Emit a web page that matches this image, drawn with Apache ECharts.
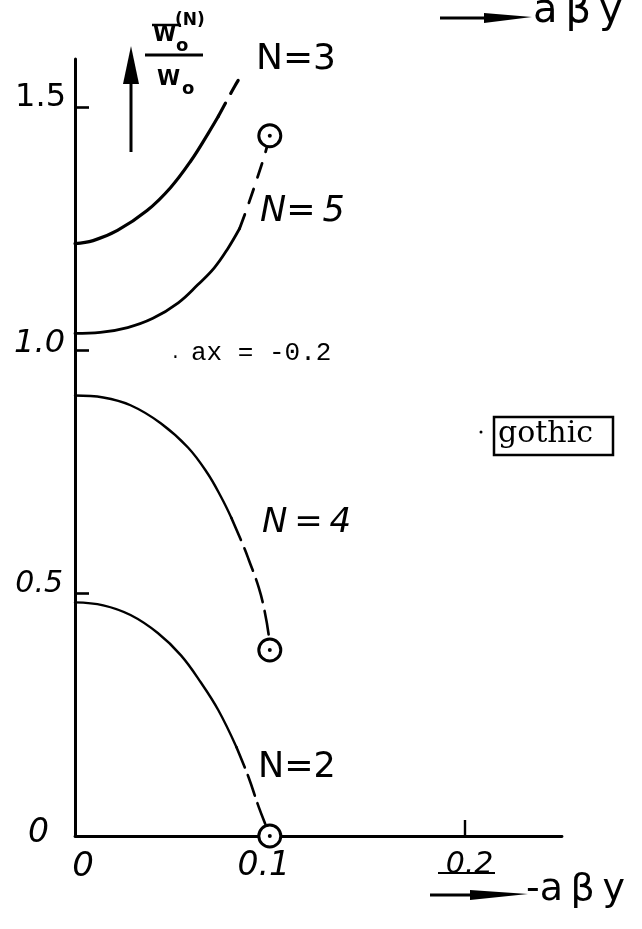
<!DOCTYPE html>
<html>
<head>
<meta charset="utf-8">
<script src="https://cdn.jsdelivr.net/npm/echarts@6/dist/echarts.min.js"></script>
<style>
  html, body { margin: 0; padding: 0; background: #fff; }
  #chart { width: 642px; height: 929px; }
</style>
</head>
<body>
<div id="chart"></div>
<script>
// Normalised eigenvalue W0(N)/W0 against -aβy, for N = 2..5 at ax = -0.2.
// Solid parts are computed branches, dashed parts the extrapolated ends.
const n3Solid  = [[0, 1.220], [0.0093, 1.226], [0.0218, 1.247], [0.037, 1.288], [0.049, 1.335], [0.0596, 1.391], [0.0684, 1.447], [0.0736, 1.482]];
const n3Dashed = [[0.0736, 1.482], [0.0775, 1.511], [0.082, 1.544], [0.0865, 1.574]];

const n5Solid  = [[0, 1.035], [0.013, 1.037], [0.027, 1.047], [0.040, 1.066], [0.053, 1.098], [0.063, 1.135], [0.0715, 1.170], [0.0785, 1.210], [0.0845, 1.251]];
const n5Dashed = [[0.0845, 1.251], [0.0886, 1.296], [0.0935, 1.354], [0.0977, 1.407], [0.1, 1.442]];

const n4Solid  = [[0, 0.907], [0.0145, 0.903], [0.0285, 0.887], [0.044, 0.850], [0.058, 0.800], [0.068, 0.747], [0.075, 0.698], [0.0803, 0.655]];
const n4Dashed = [[0.0803, 0.655], [0.087, 0.592], [0.0891, 0.570], [0.0943, 0.512], [0.0974, 0.462], [0.0995, 0.412], [0.1, 0.383]];

const n2Solid  = [[0, 0.481], [0.0145, 0.475], [0.0285, 0.455], [0.0425, 0.418], [0.0544, 0.372], [0.0648, 0.315], [0.0736, 0.259], [0.0829, 0.183]];
const n2Dashed = [[0.0829, 0.183], [0.0891, 0.121], [0.0943, 0.060], [0.0995, 0.006], [0.1, 0]];

// end points marked with a ringed dot
const endPoints = [[0.1, 1.442], [0.1, 0.383], [0.1, 0]];

// tick labels
const xTickValues = [0, 0.1, 0.2];
const xTickMarks  = [0.2];
const yTickValues = [0, 0.5, 1, 1.5];
const yTickMarks  = [0.5, 1, 1.5];

const INK = '#000';
const HAND = '"DejaVu Sans", sans-serif';

function curve(data, width, dash) {
  return {
    type: 'line', data: data, showSymbol: false, smooth: 0.4,
    clip: false, silent: true, z: 3,
    lineStyle: { color: INK, width: width, type: dash || 'solid', cap: 'round', join: 'round' }
  };
}

const chart = echarts.init(document.getElementById('chart'), null, { renderer: 'canvas' });

chart.setOption({
  backgroundColor: '#fff',
  animation: false,
  grid: { left: 75, top: 59, width: 487, height: 777, containLabel: false },
  xAxis: {
    type: 'value', min: 0, max: 0.25, interval: 0.05,
    axisLine: { show: true, onZero: false, lineStyle: { color: INK, width: 2.8 } },
    axisTick: { show: true, inside: true, length: 16, customValues: xTickMarks, lineStyle: { color: INK, width: 2.4 } },
    splitLine: { show: false },
    axisLabel: {
      customValues: xTickValues, margin: 14, color: INK,
      fontFamily: HAND, fontSize: 33, fontStyle: 'italic',
      formatter: function (v) {
        if (v === 0) return '{z|0}';
        if (Math.abs(v - 0.1) < 1e-9) return '{a|0.1}';
        return '{b|0.2}';
      },
      rich: {
        z: { fontFamily: HAND, fontSize: 34, fontStyle: 'italic', padding: [0, 0, 0, 16] },
        a: { fontFamily: HAND, fontSize: 33, fontStyle: 'italic', padding: [0, 12, 0, 0] },
        b: { fontFamily: HAND, fontSize: 30, fontStyle: 'italic', padding: [0, 0, 0, 10] }
      }
    }
  },
  yAxis: {
    type: 'value', min: 0, max: 1.6, interval: 0.1,
    axisLine: { show: true, onZero: false, lineStyle: { color: INK, width: 3 } },
    axisTick: { show: true, inside: true, length: 14, customValues: yTickMarks, lineStyle: { color: INK, width: 2.6 } },
    splitLine: { show: false },
    axisLabel: {
      customValues: yTickValues, margin: 9, color: INK,
      fontFamily: HAND, fontSize: 32,
      formatter: function (v) {
        if (v === 0) return '{z|0}';
        if (v === 0.5) return '{h|0.5}';
        if (v === 1) return '{o|1.0}';
        return '{t|1.5}';
      },
      rich: {
        z: { fontFamily: HAND, fontSize: 33, fontStyle: 'italic', padding: [0, 17, 6, 0] },
        h: { fontFamily: HAND, fontSize: 30, fontStyle: 'italic', padding: [0, 3, 18, 0] },
        o: { fontFamily: HAND, fontSize: 32, fontStyle: 'italic', padding: [0, 1, 14, 0] },
        t: { fontFamily: HAND, fontSize: 32, padding: [0, 0, 20, 0] }
      }
    }
  },
  series: [
    curve(n3Solid, 3.2), curve(n3Dashed, 3.2, [15, 11]),
    curve(n5Solid, 2.8), curve(n5Dashed, 2.8, [15, 12]),
    curve(n4Solid, 2.4), curve(n4Dashed, 2.6, [24, 9]),
    curve(n2Solid, 2.4), curve(n2Dashed, 2.6, [22, 8]),
    {
      type: 'scatter', data: endPoints, symbol: 'circle', symbolSize: 22, clip: false, silent: true, z: 5,
      itemStyle: { color: '#fff', borderColor: INK, borderWidth: 3, opacity: 1 }
    },
    {
      type: 'scatter', data: endPoints, symbol: 'circle', symbolSize: 4, clip: false, silent: true, z: 6,
      itemStyle: { color: INK, opacity: 1 }
    }
  ],
  graphic: [
    // ordinate caption: arrow and W0(N)/W0
    { type: 'line', shape: { x1: 131, y1: 70, x2: 131, y2: 152 }, style: { stroke: INK, lineWidth: 3 } },
    { type: 'polygon', shape: { points: [[131, 46], [123, 84], [139, 84]] }, style: { fill: INK } },
    { type: 'line', shape: { x1: 152, y1: 25, x2: 181, y2: 25 }, style: { stroke: INK, lineWidth: 2.5 } },
    { type: 'text', x: 153, y: 36, style: { text: 'W', font: 'bold 21px ' + HAND, fill: INK, verticalAlign: 'middle' } },
    { type: 'text', x: 176, y: 46, style: { text: 'o', font: 'bold 18px ' + HAND, fill: INK, verticalAlign: 'middle' } },
    { type: 'text', x: 175, y: 21, style: { text: '(N)', font: 'bold 17px ' + HAND, fill: INK, verticalAlign: 'middle' } },
    { type: 'line', shape: { x1: 145, y1: 55, x2: 203, y2: 55 }, style: { stroke: INK, lineWidth: 3 } },
    { type: 'text', x: 157, y: 80, style: { text: 'W', font: 'bold 21px ' + HAND, fill: INK, verticalAlign: 'middle' } },
    { type: 'text', x: 182, y: 89, style: { text: 'o', font: 'bold 18px ' + HAND, fill: INK, verticalAlign: 'middle' } },

    // curve names
    { type: 'text', x: 256, y: 60, style: { text: 'N=3', font: '36px ' + HAND, fill: INK, verticalAlign: 'middle' } },
    { type: 'text', x: 260, y: 212, style: { text: 'N=\u20095', font: 'italic 35px ' + HAND, fill: INK, verticalAlign: 'middle' } },
    { type: 'text', x: 262, y: 523, style: { text: 'N\u2009=\u20094', font: 'italic 34px ' + HAND, fill: INK, verticalAlign: 'middle' } },
    { type: 'text', x: 258, y: 768, style: { text: 'N=2', font: '35px ' + HAND, fill: INK, verticalAlign: 'middle' } },

    // parameter note and tag
    { type: 'text', x: 170, y: 353, style: { text: '.', font: '18px "Liberation Mono", monospace', fill: INK, verticalAlign: 'middle' } },
    { type: 'text', x: 191, y: 353, style: { text: 'ax = -0.2', font: '26px "Liberation Mono", monospace', fill: INK, verticalAlign: 'middle' } },
    { type: 'circle', shape: { cx: 481, cy: 432, r: 1.5 }, style: { fill: INK } },
    { type: 'rect', shape: { x: 494, y: 417, width: 119, height: 38 }, style: { fill: 'none', stroke: INK, lineWidth: 2.5 } },
    { type: 'text', x: 498, y: 434, style: { text: 'gothic', font: '30px "DejaVu Serif", serif', fill: INK, verticalAlign: 'middle' } },

    // abscissa caption
    { type: 'line', shape: { x1: 438, y1: 873, x2: 495, y2: 873 }, style: { stroke: INK, lineWidth: 2 } },
    { type: 'line', shape: { x1: 430, y1: 895, x2: 480, y2: 895 }, style: { stroke: INK, lineWidth: 3 } },
    { type: 'polygon', shape: { points: [[470, 890], [528, 894], [470, 900]] }, style: { fill: INK } },
    { type: 'text', x: 526, y: 890, style: { text: '-a\u2009\u03b2\u2009y', font: '38px ' + HAND, fill: INK, verticalAlign: 'middle' } },

    // caption carried over from the panel above
    { type: 'line', shape: { x1: 440, y1: 18, x2: 490, y2: 18 }, style: { stroke: INK, lineWidth: 3 } },
    { type: 'polygon', shape: { points: [[484, 13], [532, 17], [484, 23]] }, style: { fill: INK } },
    { type: 'text', x: 533, y: 12, style: { text: 'a\u2009\u03b2\u2009y', font: '40px ' + HAND, fill: INK, verticalAlign: 'middle' } }
  ]
});
</script>
</body>
</html>
